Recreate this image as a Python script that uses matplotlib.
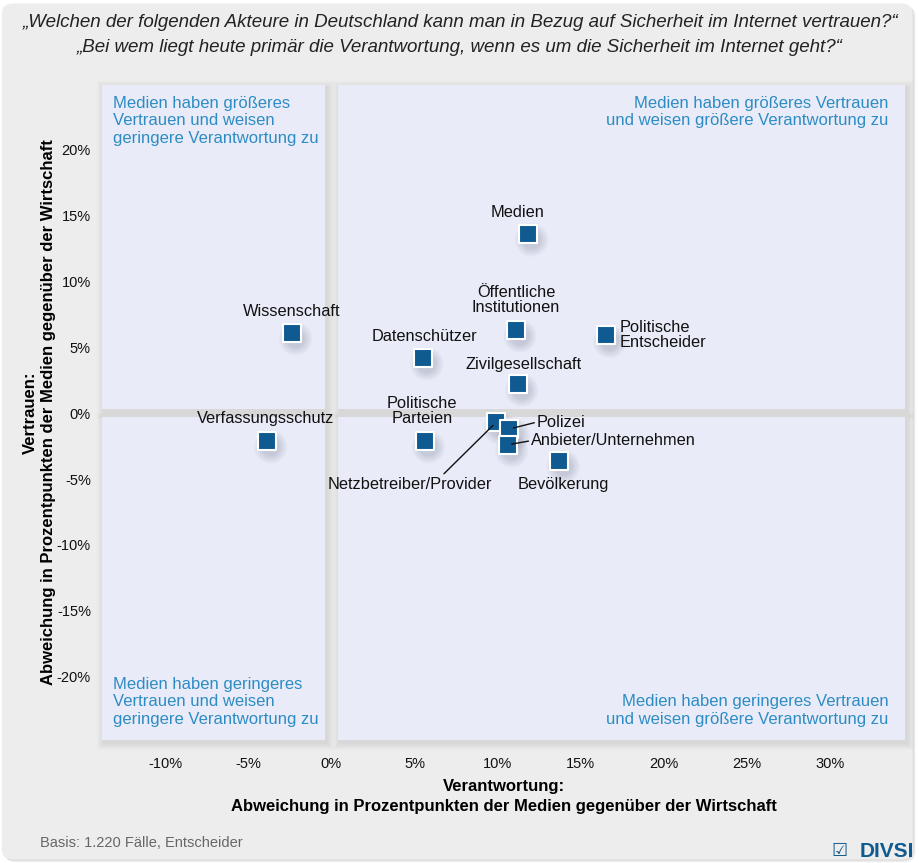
import matplotlib
matplotlib.use('Agg')
import matplotlib.pyplot as plt
from matplotlib.patches import Rectangle, FancyBboxPatch

# data
akteure = ['Medien', 'Öffentliche\nInstitutionen', 'Politische\nEntscheider', 'Wissenschaft',
           'Datenschützer', 'Zivilgesellschaft', 'Verfassungsschutz', 'Politische\nParteien',
           'Netzbetreiber/Provider', 'Polizei', 'Anbieter/Unternehmen', 'Bevölkerung']
verantwortung = [11.8, 11.1, 16.5, -2.4, 5.5, 11.2, -3.9, 5.6, 9.9, 10.7, 10.6, 13.7]
vertrauen = [13.6, 6.3, 5.9, 6.1, 4.2, 2.2, -2.1, -2.1, -0.7, -1.2, -2.4, -3.6]
x_ticks = [-10, -5, 0, 5, 10, 15, 20, 25, 30]
y_ticks = [-20, -15, -10, -5, 0, 5, 10, 15, 20]

# label placement (offset in points, alignment, leader line anchor)
label_pos = {
    'Medien': ((-7, 10), 'center', 'bottom', None),
    'Öffentliche\nInstitutionen': ((0, 11), 'center', 'bottom', None),
    'Politische\nEntscheider': ((10, 0), 'left', 'center', None),
    'Wissenschaft': ((0, 10), 'center', 'bottom', None),
    'Datenschützer': ((1, 10), 'center', 'bottom', None),
    'Zivilgesellschaft': ((4, 9), 'center', 'bottom', None),
    'Verfassungsschutz': ((-1, 11), 'center', 'bottom', None),
    'Politische\nParteien': ((-2, 11), 'center', 'bottom', None),
    'Netzbetreiber/Provider': ((-62, -39), 'center', 'top', (0.69, 1.0)),
    'Polizei': ((20, 5), 'left', 'center', (0.0, 0.5)),
    'Anbieter/Unternehmen': ((17, 3), 'left', 'center', (0.0, 0.5)),
    'Bevölkerung': ((3, -12), 'center', 'top', None),
}

SANS = ['Liberation Sans', 'DejaVu Sans']
BLUE = '#0f5a90'
QTEXT = '#2d8cc4'

fig = plt.figure(figsize=(9.2, 8.63), dpi=100, facecolor='white')

# outer rounded card with soft shadow
for i in range(4):
    fig.patches.append(FancyBboxPatch((0.003 + 0.0008 * i, 0.003 - 0.0008 * i), 0.99, 0.992,
                                      boxstyle='round,pad=0,rounding_size=0.012',
                                      transform=fig.transFigure, facecolor='black',
                                      edgecolor='none', alpha=0.035, zorder=-3))
fig.patches.append(FancyBboxPatch((0.002, 0.004), 0.99, 0.992,
                                  boxstyle='round,pad=0,rounding_size=0.012',
                                  transform=fig.transFigure, facecolor='#ededed',
                                  edgecolor='none', zorder=-2))

ax = fig.add_axes([102 / 920, 1 - 740 / 863, 803 / 920, 655 / 863])
ax.set_facecolor('none')
xmin, xmax, ymin, ymax = -13.8, 34.5, -24.8, 24.9
ax.set_xlim(xmin, xmax)
ax.set_ylim(ymin, ymax)
for s in ax.spines.values():
    s.set_visible(False)

# pixel size in data units
px_x = (xmax - xmin) / 803
px_y = (ymax - ymin) / 655

# quadrant panels with soft shadow
gx, gy = 0.38, 0.3
panels = [(xmin, gy, -gx - xmin, ymax - gy), (gx, gy, xmax - gx, ymax - gy),
          (xmin, ymin, -gx - xmin, -gy - ymin), (gx, ymin, xmax - gx, -gy - ymin)]
for (px, py, w, h) in panels:
    for k in range(7):
        grow = 7 - k
        ax.add_patch(Rectangle((px + (2 - grow) * px_x, py - (3 + grow) * px_y),
                               w + 2 * grow * px_x, h + 2 * grow * px_y,
                               facecolor='black', edgecolor='none', alpha=0.013,
                               zorder=0, clip_on=False))
    ax.add_patch(Rectangle((px, py), w, h, facecolor='#e9ecf8', edgecolor='none',
                           zorder=1, clip_on=False))

# quadrant descriptions
qkw = dict(color=QTEXT, fontsize=12, family=SANS, linespacing=1.22, zorder=3)
ax.text(xmin + 0.65, ymax - 0.8, 'Medien haben größeres\nVertrauen und weisen\ngeringere Verantwortung zu',
        ha='left', va='top', **qkw)
ax.text(xmax - 1.0, ymax - 0.8, 'Medien haben größeres Vertrauen\nund weisen größere Verantwortung zu',
        ha='right', va='top', **qkw)
ax.text(xmin + 0.65, ymin + 1.0, 'Medien haben geringeres\nVertrauen und weisen\ngeringere Verantwortung zu',
        ha='left', va='bottom', **qkw)
ax.text(xmax - 1.0, ymin + 1.0, 'Medien haben geringeres Vertrauen\nund weisen größere Verantwortung zu',
        ha='right', va='bottom', **qkw)

# soft marker shadows, then markers
for k in range(6):
    ax.scatter([v + 4 * px_x for v in verantwortung],
               [v - 6 * px_y for v in vertrauen],
               s=(24 - 2.2 * k) ** 2, marker='o', color='#303050', alpha=0.03,
               edgecolors='none', zorder=2)
ax.scatter(verantwortung, vertrauen, s=160, marker='s', color=BLUE,
           edgecolors='white', linewidths=1.5, zorder=5)

for name, x, y in zip(akteure, verantwortung, vertrauen):
    (ox, oy), ha, va, rel = label_pos[name]
    arrow = None
    if rel is not None:
        arrow = dict(arrowstyle='-', color='#111111', lw=1.0, shrinkA=0, shrinkB=3, relpos=rel)
    ax.annotate(name, (x, y), xytext=(ox, oy), textcoords='offset points', ha=ha, va=va,
                fontsize=11.8, family=SANS, color='#111111', linespacing=1.0,
                arrowprops=arrow, zorder=6)

ax.set_xticks(x_ticks)
ax.set_xticklabels([f'{t}%' for t in x_ticks])
ax.set_yticks(y_ticks)
ax.set_yticklabels([f'{t}%' for t in y_ticks])
ax.tick_params(length=0, labelsize=10.5, colors='#111111', pad=8)
for lab in ax.get_xticklabels() + ax.get_yticklabels():
    lab.set_family(SANS)
ax.tick_params(axis='x', pad=12)

ax.set_xlabel('Verantwortung:\nAbweichung in Prozentpunkten der Medien gegenüber der Wirtschaft',
              fontsize=12, fontweight='bold', family=SANS, labelpad=2, linespacing=1.45)
ax.set_ylabel('Vertrauen:\nAbweichung in Prozentpunkten der Medien gegenüber der Wirtschaft',
              fontsize=12, fontweight='bold', family=SANS, labelpad=0, linespacing=1.25)
ax.xaxis.set_label_coords(0.5, -0.059, transform=ax.transAxes)
ax.yaxis.set_label_coords(-0.057, 0.5, transform=ax.transAxes)

fig.text(0.5, 1 - 14 / 863,
         '„Welchen der folgenden Akteure in Deutschland kann man in Bezug auf Sicherheit im Internet vertrauen?“\n'
         '„Bei wem liegt heute primär die Verantwortung, wenn es um die Sicherheit im Internet geht?“',
         ha='center', va='top', fontsize=13.5, style='italic', family=SANS, color='#222222',
         linespacing=1.6)

fig.text(40 / 920, 1 - 843 / 863, 'Basis: 1.220 Fälle, Entscheider', ha='left', va='center',
         fontsize=10.5, family=SANS, color='#666666')
fig.text(848 / 920, 1 - 851 / 863, '☑', ha='right', va='center', fontsize=13,
         family=['DejaVu Sans'], color=BLUE)
fig.text(914 / 920, 1 - 851 / 863, 'DIVSI', ha='right', va='center', fontsize=15,
         fontweight='bold', family=SANS, color=BLUE)

fig.savefig('out.png', dpi=100, facecolor='white')
